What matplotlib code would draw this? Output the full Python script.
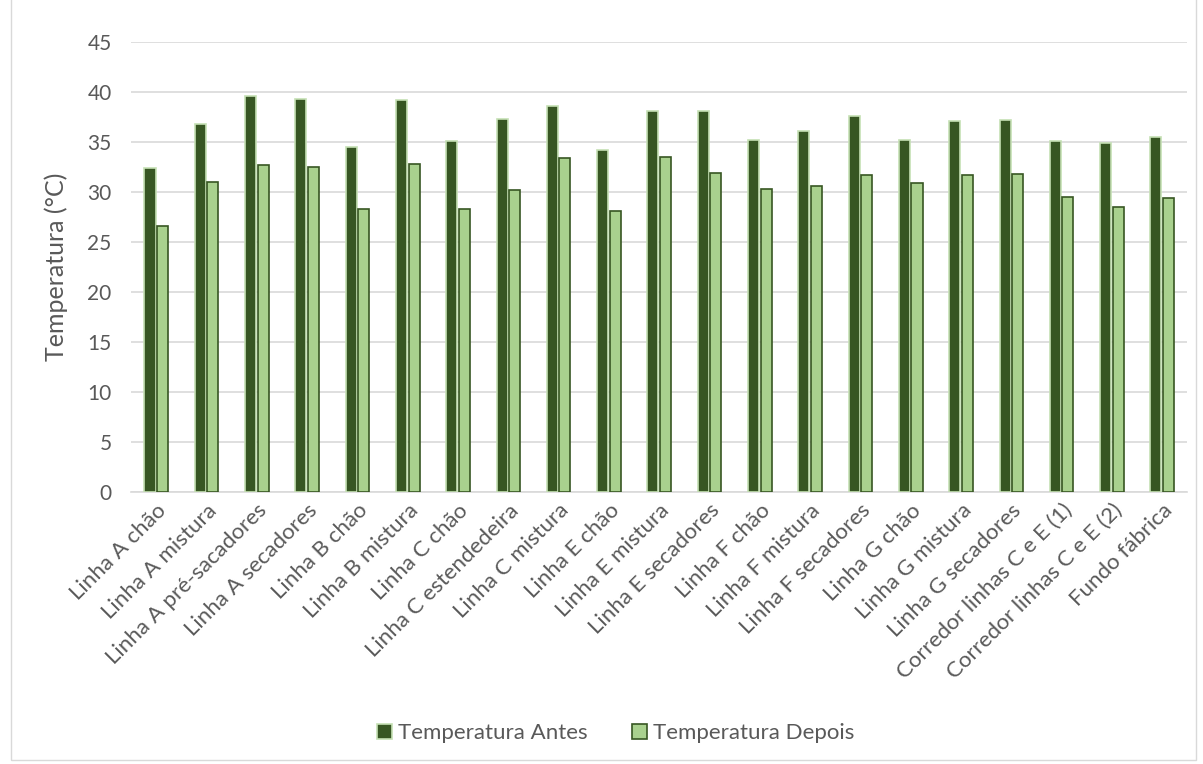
import matplotlib.pyplot as plt
import numpy as np
from matplotlib.patches import Rectangle

# Locais de medição
locais = ['Linha A chão', 'Linha A mistura', 'Linha A pré-sacadores', 'Linha A secadores',
          'Linha B chão', 'Linha B mistura', 'Linha C chão', 'Linha C estendedeira',
          'Linha C mistura', 'Linha E chão', 'Linha E mistura', 'Linha E secadores',
          'Linha F chão', 'Linha F mistura', 'Linha F secadores', 'Linha G chão',
          'Linha G mistura', 'Linha G secadores', 'Corredor linhas C e E (1)',
          'Corredor linhas C e E (2)', 'Fundo fábrica']

# Temperaturas (°C)
temp_antes = [32.4, 36.8, 39.6, 39.3, 34.5, 39.2, 35.1, 37.3, 38.6, 34.2, 38.1,
              38.1, 35.2, 36.1, 37.6, 35.2, 37.1, 37.2, 35.1, 34.9, 35.5]
temp_depois = [26.6, 31.0, 32.7, 32.5, 28.3, 32.8, 28.3, 30.2, 33.4, 28.1, 33.5,
               31.9, 30.3, 30.6, 31.7, 30.9, 31.7, 31.8, 29.5, 28.5, 29.4]

escuro = '#375623'
claro = '#a9d18e'
cinza = '#595959'

plt.rcParams['font.family'] = ['Lato', 'DejaVu Sans']

fig = plt.figure(figsize=(12.03, 7.64), dpi=100)
ax = fig.add_axes([0.109, 0.356, 0.878, 0.589])

x = np.arange(len(locais))
w = 0.22
ax.bar(x - 0.125, temp_antes, w, color=escuro, edgecolor='#c5e0b4', linewidth=1.2,
       label='Temperatura Antes', zorder=3)
ax.bar(x + 0.125, temp_depois, w, color=claro, edgecolor=escuro, linewidth=1.2,
       label='Temperatura Depois', zorder=3)

ax.set_xlim(-0.5, len(locais) - 0.5)
ax.set_ylim(0, 45)
ax.set_yticks(np.arange(0, 46, 5))
ax.yaxis.grid(True, color='#d9d9d9', linewidth=1.2, zorder=0)
ax.tick_params(axis='both', length=0, labelcolor=cinza)
ax.tick_params(axis='y', pad=14, labelsize=15)
ax.tick_params(axis='x', pad=6, labelsize=16)
ax.set_xticks(x)
ax.set_xticklabels(locais, rotation=45, ha='right', rotation_mode='anchor')
for s in ['top', 'right', 'left']:
    ax.spines[s].set_visible(False)
ax.spines['bottom'].set_color('#d9d9d9')
ax.spines['bottom'].set_linewidth(1.2)
ax.set_ylabel('Temperatura (°C)', fontsize=18, color=cinza, labelpad=14)

fig.legend(loc='center', bbox_to_anchor=(0.512, 0.04), ncol=2, frameon=False,
           fontsize=16, labelcolor=cinza, handlelength=0.65, handleheight=0.65,
           columnspacing=2.0, handletextpad=0.3)

# Moldura do gráfico
fig.patches.append(Rectangle((0.009, 0.005), 0.985, 1.2, transform=fig.transFigure,
                             fill=False, edgecolor='#d9d9d9', linewidth=1))

fig.savefig('out.png', dpi=100)
